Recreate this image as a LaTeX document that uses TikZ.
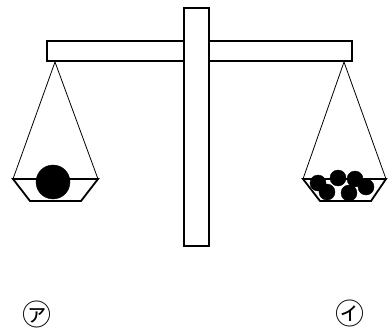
\documentclass[tikz,border=0pt]{standalone}
\usepackage{fontspec}
\newfontfamily\jpfont{Noto Sans CJK JP}
\usepackage{tikz}

\tikzset{
    thick line/.style={line width=1.8pt},
    string/.style={line width=0.8pt},
    ball/.style={fill=black},
    pan label/.style={font=\jpfont\fontsize{29}{29}\selectfont, inner sep=0pt}
}

\begin{document}
\begin{tikzpicture}[x=1pt,y=-1pt]
    \useasboundingbox (0,0) rectangle (388,329);

    % beam and post
    \draw[thick line,fill=white] (47,41) rectangle (352,61);
    \draw[thick line,fill=white] (184,8) rectangle (209,246);

    % hanging points
    \coordinate (hl) at (55,62);
    \coordinate (hr) at (344,62);

    % left pan
    \coordinate (l1) at (13,179);
    \coordinate (l2) at (98,179);
    \draw[string] (l1) -- (hl) -- (l2);
    \draw[ball](53,182) circle (17);
    \draw[thick line] (l1) -- (30,201) -- (81,201) -- (l2) -- cycle;

    % right pan
    \coordinate (r1) at (303,179);
    \coordinate (r2) at (386,179);
    \draw[string] (r1) -- (hr) -- (r2);
    \foreach \x/\y in {318/183, 338/178, 355/179, 327/192, 349/193, 366/187}
        \draw[ball](\x,\y) circle (8);
    \draw[thick line] (r1) -- (320,201) -- (371,201) -- (r2) -- cycle;

    % labels
    \node[pan label] (la) at (37,314) {㋐};
    \node[pan label] (lb) at (350,313) {㋑};
\end{tikzpicture}
\end{document}
